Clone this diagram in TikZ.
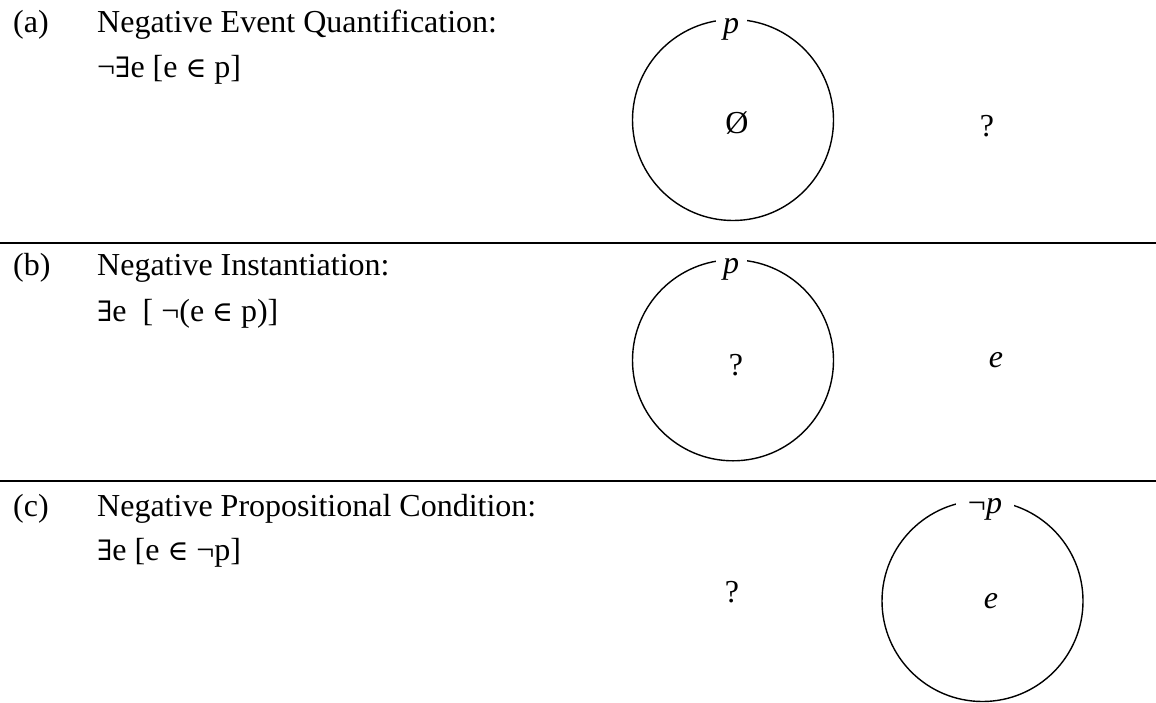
\documentclass[tikz,border=0pt]{standalone}
\usepackage{fontspec}
\setmainfont{Liberation Serif}
\newfontfamily\symfont[Scale=0.88]{DejaVu Serif}
\newcommand{\myex}{{\symfont ∃}}
\newcommand{\myin}{{\symfont ∈}}
\begin{document}
\begin{tikzpicture}[x=1pt,y=-1pt,
  txt/.style={inner sep=0pt, anchor=base west, font=\fontsize{32}{36}\selectfont},
  sym/.style={inner sep=0pt, anchor=base, font=\fontsize{32}{36}\selectfont},
  set/.style={circle, draw, line width=1.4pt, minimum size=201pt, inner sep=0pt},
  setlabel/.style={fill=white, inner xsep=7.5pt, inner ysep=2pt, anchor=base, font=\fontsize{32}{36}\selectfont\itshape},
  divider/.style={line width=2pt}]
\useasboundingbox (0,0) rectangle (1156,702);
% row (a)
\node[txt] (la) at (13,32) {(a)};
\node[txt] (ta) at (97,32) {Negative Event Quantification:};
\node[txt] (fa) at (97,77) {¬\myex e [e \myin\ p]};
\node[set] (ca) at (733,120) {};
\node[setlabel] (pa) at (731,33) {p};
\node[sym] (ea) at (737,133) {Ø};
\node[sym] (qa) at (987,136) {?};
% divider
\coordinate (d1l) at (0,242.7);
\coordinate (d1r) at (1156,242.7);
\draw[divider] (d1l) -- (d1r);
% row (b)
\node[txt] (lb) at (13,275) {(b)};
\node[txt] (tb) at (97,275) {Negative Instantiation:};
\node[txt] (fb) at (97,321.7) {\myex e\ \ [ ¬(e \myin\ p)]};
\node[set] (cb) at (733,360.3) {};
\node[setlabel] (pb) at (731,273) {p};
\node[sym] (qb) at (736,375) {?};
\node[sym, font=\fontsize{32}{36}\selectfont\itshape] (eb) at (996,367) {e};
% divider
\coordinate (d2l) at (0,481);
\coordinate (d2r) at (1156,481);
\draw[divider] (d2l) -- (d2r);
% row (c)
\node[txt] (lc) at (13,516.7) {(c)};
\node[txt] (tc) at (97,516.7) {Negative Propositional Condition:};
\node[txt] (fc) at (97,560.7) {\myex e [e \myin\ ¬p]};
\node[sym] (qc) at (732,602) {?};
\node[set] (cc) at (982.5,601) {};
\node[setlabel, inner xsep=12pt] (pc) at (985,513) {{\upshape ¬}p};
\node[sym, font=\fontsize{32}{36}\selectfont\itshape] (ec) at (991,608) {e};
\end{tikzpicture}
\end{document}
